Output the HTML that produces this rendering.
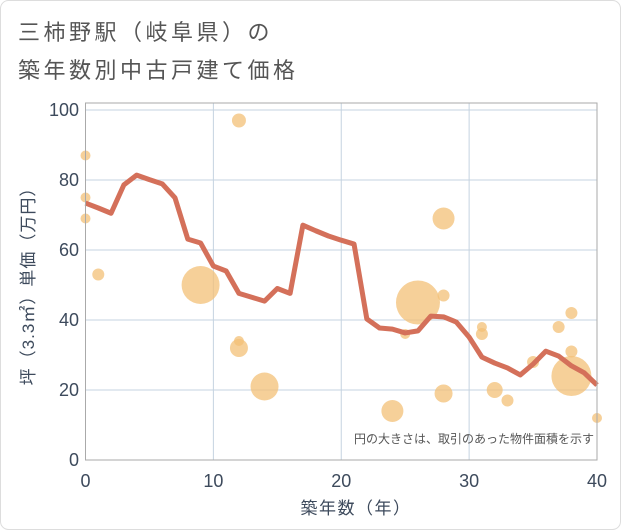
<!DOCTYPE html>
<html><head><meta charset="utf-8"><style>
body{margin:0;background:#fff;}
#wrap{position:relative;width:621px;height:530px;overflow:hidden;font-family:"Liberation Sans","Noto Sans CJK JP",sans-serif;}
</style></head><body>
<div id="wrap">
<svg id="svg" width="621" height="530">
<rect x="0.5" y="0.5" width="620" height="529" rx="8" fill="#fff" stroke="#ddd"/>
<text x="18" y="40" font-size="22" letter-spacing="3.5" fill="#555">三柿野駅（岐阜県）の</text>
<text x="18" y="78" font-size="22" letter-spacing="3.5" fill="#555">築年数別中古戸建て価格</text>
<g id="grid"></g><g id="bubbles"></g><g id="line"></g><g id="axes"></g>
<text x="594" y="443" font-size="12" fill="#555" text-anchor="end">円の大きさは、取引のあった物件面積を示す</text>
<text x="356" y="514" font-size="17" letter-spacing="1.5" fill="#3d4a5c" text-anchor="middle">築年数（年）</text>
<text transform="translate(34,282) rotate(-90)" font-size="17" letter-spacing="1" fill="#3d4a5c" text-anchor="middle">坪（3.3㎡）単価（万円）</text>
</svg></div>
<script>
const years=[0,1,2,3,4,5,6,7,8,9,10,11,12,13,14,15,16,17,18,19,20,21,22,23,24,25,26,27,28,29,30,31,32,33,34,35,36,37,38,39,40];
const prices=[73.4,72,70.5,78.6,81.4,80.1,78.9,74.9,63.1,62,55.4,54,47.6,46.5,45.4,49,47.6,67.1,65.5,64,62.8,61.7,40.3,37.7,37.4,36.3,36.9,41.1,40.9,39.4,35.1,29.4,27.7,26.3,24.3,27.4,31.1,29.7,26.9,24.9,21.4];
const bubbleX=[0,0,0,1,9,12,12,12,14,24,25,26,28,28,28,31,31,32,33,35,37,38,38,38,40];
const bubbleY=[87,75,69,53,50,97,34,32,21,14,36,45,69,47,19,38,36,20,17,28,38,42,31,24,12];
const bubbleR=[5,5,5,6,19,7,5,9,14,11,5,22,11,6,9,5,6,8,6,6,6,6,6,20,5];
const xTicks=[0,10,20,30,40];
const yTicks=[0,20,40,60,80,100];
const L=85.5,R=597,T=103,B=460;
const sx=v=>L+(R-L)*v/40, sy=v=>B-(B-110)*v/100;
const NS="http://www.w3.org/2000/svg";
function mk(t,a,p){const e=document.createElementNS(NS,t);for(const k in a)e.setAttribute(k,a[k]);p.appendChild(e);return e;}
const grid=document.getElementById('grid'),axes=document.getElementById('axes');
xTicks.forEach(v=>{
 const l=mk('line',{x1:sx(v),x2:sx(v),y1:T,y2:B,stroke:'#c5d3e0'},grid);
 
 
 const t=mk('text',{x:sx(v),y:487,'font-size':18,fill:'#3d4a5c','text-anchor':'middle'},axes);t.textContent=v;
 
 
});
yTicks.forEach(v=>{
 const l=mk('line',{x1:L,x2:R,y1:sy(v),y2:sy(v),stroke:'#c5d3e0'},grid);
 
 
 const t=mk('text',{x:79,y:sy(v)+6,'font-size':18,fill:'#3d4a5c','text-anchor':'end'},axes);t.textContent=v;
 
 
});
const fr=mk('rect',{x:L,y:T,width:R-L,height:B-T,fill:'none',stroke:'#aaa'},axes);


const bg=document.getElementById('bubbles');
bubbleX.forEach((x,i)=>{
 const c=mk('circle',{cx:sx(x),cy:sy(bubbleY[i]),r:bubbleR[i],fill:'#f3c077','fill-opacity':0.75},bg);
 
 
});
const p=mk('polyline',{points:years.map((x,i)=>sx(x)+','+sy(prices[i])).join(' '),fill:'none',stroke:'#d4705a','stroke-width':5,'stroke-linejoin':'round'},document.getElementById('line'));


</script></body></html>
